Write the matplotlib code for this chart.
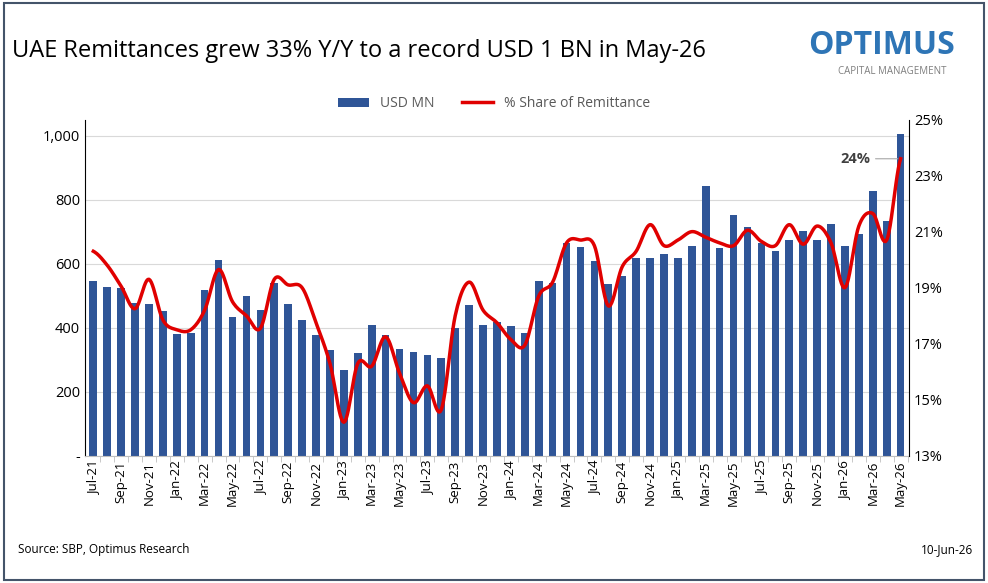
import numpy as np
import pandas as pd
import matplotlib.pyplot as plt
from matplotlib.patches import Rectangle
from matplotlib.ticker import FuncFormatter

months = pd.date_range("2021-07-01", "2026-05-01", freq="MS").strftime("%b-%y").tolist()
usd_mn = [547, 528, 525, 478, 475, 453, 381, 384, 519, 613,
          434, 500, 456, 541, 475, 425, 378, 331, 269, 322,
          409, 378, 334, 325, 316, 306, 400, 472, 409, 419,
          406, 384, 547, 541, 666, 653, 609, 537, 562, 619,
          619, 631, 619, 656, 841, 650, 753, 716, 663, 641,
          675, 703, 675, 725, 656, 694, 828, 734, 1006]
share = [20.3, 19.8, 19.05, 18.25, 19.3, 17.85, 17.5, 17.5, 18.2, 19.65,
         18.5, 18.0, 17.55, 19.3, 19.1, 19.0, 17.75, 16.3, 14.2, 16.3,
         16.2, 17.25, 15.95, 14.9, 15.5, 14.65, 18.0, 19.2, 18.2, 17.75,
         17.15, 16.95, 18.7, 19.2, 20.6, 20.7, 20.5, 18.35, 19.75, 20.3,
         21.25, 20.5, 20.7, 21.0, 20.8, 20.6, 20.5, 21.05, 20.65, 20.5,
         21.25, 20.55, 21.2, 20.6, 19.0, 21.2, 21.65, 20.7, 23.6]

def smooth(y, n=12):
    # Catmull-Rom spline through the points, like Excel's smoothed line
    y = np.asarray(y, float)
    p = np.concatenate([[y[0]], y, [y[-1]]])
    xs, ys = [], []
    t = np.linspace(0, 1, n, endpoint=False)
    for i in range(1, len(p) - 2):
        p0, p1, p2, p3 = p[i - 1], p[i], p[i + 1], p[i + 2]
        v = 0.5 * ((2 * p1) + (-p0 + p2) * t + (2 * p0 - 5 * p1 + 4 * p2 - p3) * t**2
                   + (-p0 + 3 * p1 - 3 * p2 + p3) * t**3)
        xs.extend(i - 1 + t)
        ys.extend(v)
    xs.append(len(y) - 1)
    ys.append(y[-1])
    return np.array(xs), np.array(ys)

blue = "#2F5597"
red = "#E00000"
plt.rcParams['font.family'] = ['Open Sans', 'DejaVu Sans']

fig = plt.figure(figsize=(9.88, 5.83), dpi=100)
fig.patches.append(Rectangle((0.004, 0.006), 0.992, 0.988, transform=fig.transFigure,
                             fill=False, edgecolor="#44546A", linewidth=1.5))

ax = fig.add_axes([0.086, 0.218, 0.834, 0.577])
x = np.arange(len(months))
ax.bar(x, usd_mn, width=0.55, color=blue, label="USD MN", zorder=2)
ax.set_ylim(0, 1050)
ax.set_xlim(-0.6, len(months) - 0.4)
ax.set_yticks([0, 200, 400, 600, 800, 1000])
ax.yaxis.set_major_formatter(FuncFormatter(lambda v, p: "-" if v == 0 else f"{v:,.0f}"))
ax.grid(axis="y", color="#D9D9D9", linewidth=0.8, zorder=0)
ax.set_xticks(x[::2])
ax.set_xticklabels(months[::2], rotation=90, fontsize=9.5)
ax.set_xticks(x + 0.5, minor=True)
ax.tick_params(axis="x", which="minor", length=4, color="#BFBFBF")
ax.tick_params(axis="x", which="major", length=0)
ax.tick_params(axis="y", length=0, labelsize=10.5)
for s in ["top", "right"]:
    ax.spines[s].set_visible(False)
ax.spines["bottom"].set_color("#BFBFBF")

ax2 = ax.twinx()
sx, sy = smooth(share)
ax2.plot(sx, sy, color=red, linewidth=2.5, label="% Share of Remittance", zorder=3)
ax2.set_ylim(13, 25)
ax2.set_yticks(range(13, 26, 2))
ax2.yaxis.set_major_formatter(FuncFormatter(lambda v, p: f"{v:.0f}%"))
ax2.tick_params(axis="y", length=0, labelsize=10.5)
for s in ["top", "left", "bottom"]:
    ax2.spines[s].set_visible(False)
ax2.annotate(f"{share[-1]:.0f}%", xy=(x[-1], share[-1]), xytext=(x[-1] - 2.2, share[-1]),
             va="center", ha="right", fontsize=10.5, fontweight="bold", color="#404040",
             arrowprops=dict(arrowstyle="-", color="#A6A6A6", lw=0.8))

h1, l1 = ax.get_legend_handles_labels()
h2, l2 = ax2.get_legend_handles_labels()
fig.legend(h1 + h2, l1 + l2, loc="center", bbox_to_anchor=(0.5, 0.822), ncol=2,
           frameon=False, fontsize=10, labelcolor="#595959", handlelength=2.2)

fig.text(0.012, 0.912, "UAE Remittances grew 33% Y/Y to a record USD 1 BN in May-26",
         fontsize=17, color="black", va="center")
fig.text(0.818, 0.922, "OPTIMUS", fontsize=23, fontweight="bold", color="#2E75B6", va="center")
fig.text(0.848, 0.877, "CAPITAL MANAGEMENT", fontsize=7, color="#7F7F7F", va="center")
fig.text(0.018, 0.058, "Source: SBP, Optimus Research", fontsize=8.5, va="center")
fig.text(0.985, 0.058, "10-Jun-26", fontsize=8.5, va="center", ha="right")

fig.savefig("out.png", dpi=100)
